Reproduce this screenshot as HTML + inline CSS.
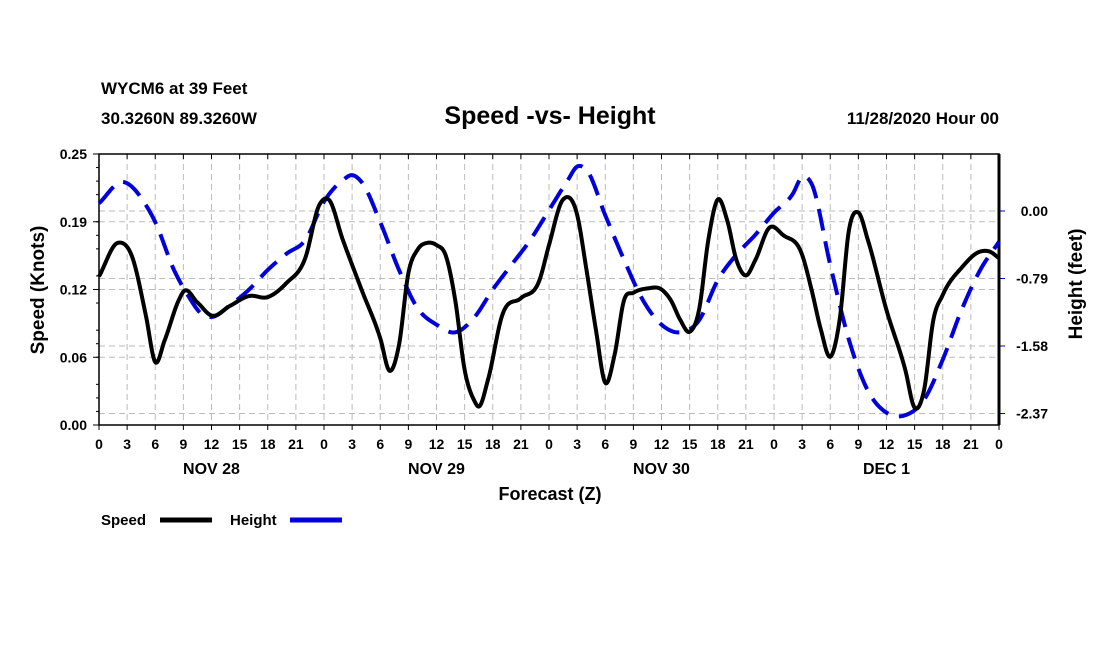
<!DOCTYPE html>
<html><head><meta charset="utf-8"><style>
body{margin:0;background:#fff}
svg{display:block;font-family:"Liberation Sans",Arial,sans-serif;font-weight:bold}
</style></head><body>
<svg id="c" width="1100" height="650">
<text x="101" y="94" font-size="17">WYCM6 at 39 Feet</text>
<text x="101" y="124" font-size="17">30.3260N 89.3260W</text>
<text x="550" y="124" font-size="25" text-anchor="middle">Speed -vs- Height</text>
<text x="999" y="124" font-size="17" text-anchor="end">11/28/2020 Hour 00</text>
<text x="550" y="500" font-size="18" text-anchor="middle">Forecast (Z)</text>
<text transform="translate(44,290) rotate(-90)" font-size="19" text-anchor="middle">Speed (Knots)</text>
<text transform="translate(1082,284) rotate(-90)" font-size="19" text-anchor="middle">Height (feet)</text>
<g>
<text x="101" y="525" font-size="15">Speed</text>
<line x1="160" y1="520" x2="212" y2="520" stroke="#000" stroke-width="5"/>
<text x="230" y="525" font-size="15">Height</text>
<line x1="290" y1="520" x2="342" y2="520" stroke="#0000dd" stroke-width="5"/>
</g>
<g id="grid"></g><g id="axes"></g><g id="series"></g>
</svg>
<script>
const speedHours=[0,2,3.5,5,6,7,8.5,9,10.5,12,14,16,18,20,22,23.5,24.5,26,28,30,31,32,33,34,35,36,37,38,39,40,40.5,41.5,43,45,47,48,49.5,51,52,53,54,55,56,57,58.5,60,61,62,63,64,65,66,67,68,69,70,71.5,73,75,76,77,78,79,80,81,82,84,86,87,88,89,90,92,94,95,96];
const speedValues=[0.137,0.168,0.156,0.101,0.058,0.078,0.115,0.123,0.113,0.101,0.110,0.119,0.118,0.131,0.154,0.203,0.208,0.171,0.125,0.080,0.050,0.074,0.140,0.162,0.168,0.166,0.156,0.115,0.051,0.023,0.017,0.042,0.101,0.117,0.134,0.166,0.208,0.194,0.143,0.088,0.039,0.065,0.115,0.122,0.126,0.125,0.115,0.097,0.086,0.106,0.171,0.208,0.189,0.152,0.138,0.152,0.182,0.175,0.157,0.125,0.088,0.063,0.097,0.180,0.196,0.171,0.106,0.051,0.016,0.032,0.097,0.120,0.145,0.160,0.160,0.154];
const heightHours=[0,2.5,5,6,8,9.5,11,12,14,16,18,20,22,24,26,27,28,30,32,34,36,38,40,42,44,46,48,50,51,52,54,56,58,60,62,64,66,68,70,72,74,75,76,78,80,82,84,86,88,90,92,94,96];
const heightValues=[0.09,0.34,0.07,-0.13,-0.69,-0.99,-1.21,-1.24,-1.10,-0.92,-0.69,-0.50,-0.34,0.11,0.36,0.42,0.34,-0.13,-0.69,-1.14,-1.33,-1.42,-1.25,-0.92,-0.63,-0.34,0.01,0.36,0.52,0.48,-0.05,-0.57,-1.04,-1.33,-1.42,-1.28,-0.81,-0.51,-0.28,-0.02,0.20,0.40,0.32,-0.63,-1.51,-2.10,-2.36,-2.39,-2.21,-1.74,-1.16,-0.69,-0.36];
const speedTicks=[0,0.0625,0.125,0.1875,0.25];
const speedTickLabels=["0.00","0.06","0.12","0.19","0.25"];
const heightTicks=[0,-0.79,-1.58,-2.37];
const heightTickLabels=["0.00","-0.79","-1.58","-2.37"];
const dayLabels=["NOV 28","NOV 29","NOV 30","DEC 1"];

const L=99,R=999,T=154,B=425;
const X=h=>L+h*(R-L)/96;
const YS=v=>B-v*(B-T)/0.25;
const YH=v=>211-v*85.44;
const NS="http://www.w3.org/2000/svg";
function mk(tag,attrs,parent){const e=document.createElementNS(NS,tag);for(const k in attrs)e.setAttribute(k,attrs[k]);parent.appendChild(e);return e;}
const grid=document.getElementById('grid'),axes=document.getElementById('axes'),series=document.getElementById('series');
const gs={stroke:"#bbb","stroke-width":1,"stroke-dasharray":"6,4"};
for(let h=3;h<96;h+=3){const g=mk('line',Object.assign({x1:X(h),x2:X(h),y1:T,y2:B},gs),grid);

}
speedTicks.forEach((v,i)=>{if(v>0&&v<0.25){const g=mk('line',Object.assign({x1:L,x2:R,y1:YS(v),y2:YS(v)},gs),grid);

}
const t=mk('text',{x:L-12,y:YS(v)+5,"font-size":14,"text-anchor":"end"},axes);t.textContent=speedTickLabels[i];


mk('line',{x1:L-6,x2:L,y1:YS(v),y2:YS(v),stroke:"#000"},axes);});
for(let k=1;k<20;k++){if(k%4)mk('line',{x1:L-3,x2:L,y1:YS(k*0.0125),y2:YS(k*0.0125),stroke:"#000"},axes);}
heightTicks.forEach((v,i)=>{const g=mk('line',Object.assign({x1:L,x2:R,y1:YH(v),y2:YH(v)},gs),grid);


mk('line',{x1:R,x2:R+6,y1:YH(v),y2:YH(v),stroke:"#0000cc"},axes);
const t=mk('text',{x:R+49,y:YH(v)+5,"font-size":14,"text-anchor":"end"},axes);t.textContent=heightTickLabels[i];

});
for(let h=0;h<=96;h+=3){const t=mk('text',{x:X(h),y:449,"font-size":14,"text-anchor":"middle"},axes);t.textContent=String(h%24);


mk('line',{x1:X(h),x2:X(h),y1:B,y2:B+5,stroke:"#000"},axes);
mk('line',{x1:X(h),x2:X(h),y1:T,y2:T+5,stroke:"#000"},axes);}
dayLabels.forEach((d,i)=>{const t=mk('text',{x:X(12+24*i),y:474,"font-size":16,"text-anchor":"middle"},axes);t.textContent=d;

});
mk('rect',{x:L,y:T,width:R-L,height:B-T,fill:"none",stroke:"#000","stroke-width":1.5},axes);
mk('line',{x1:R,x2:R,y1:T,y2:B,stroke:"#000","stroke-width":3},axes);
function spline(xs,ys,fx,fy){
  const n=xs.length,m=[];
  for(let i=0;i<n;i++){
    if(i==0)m.push((ys[1]-ys[0])/(xs[1]-xs[0]));
    else if(i==n-1)m.push((ys[n-1]-ys[n-2])/(xs[n-1]-xs[n-2]));
    else{const d0=(ys[i]-ys[i-1])/(xs[i]-xs[i-1]),d1=(ys[i+1]-ys[i])/(xs[i+1]-xs[i]);
      const h0=xs[i]-xs[i-1],h1=xs[i+1]-xs[i];m.push((d0*h1+d1*h0)/(h0+h1));}
  }
  let d="";
  for(let i=0;i<n-1;i++){const h=xs[i+1]-xs[i];
    for(let s=0;s<=20;s++){if(i>0&&s==0)continue;const t=s/20,t2=t*t,t3=t2*t;
      const y=(2*t3-3*t2+1)*ys[i]+(t3-2*t2+t)*h*m[i]+(-2*t3+3*t2)*ys[i+1]+(t3-t2)*h*m[i+1];
      d+=(d?"L":"M")+fx(xs[i]+t*h).toFixed(2)+","+fy(y).toFixed(2);}
  }
  return d;
}
const hp=mk('path',{d:spline(heightHours,heightValues,X,YH),fill:"none",stroke:"#0000dd","stroke-width":4,"stroke-dasharray":"22,11"},series);


const sp=mk('path',{d:spline(speedHours,speedValues,X,YS),fill:"none",stroke:"#000","stroke-width":4,"stroke-linejoin":"round"},series);


</script>
</body></html>
